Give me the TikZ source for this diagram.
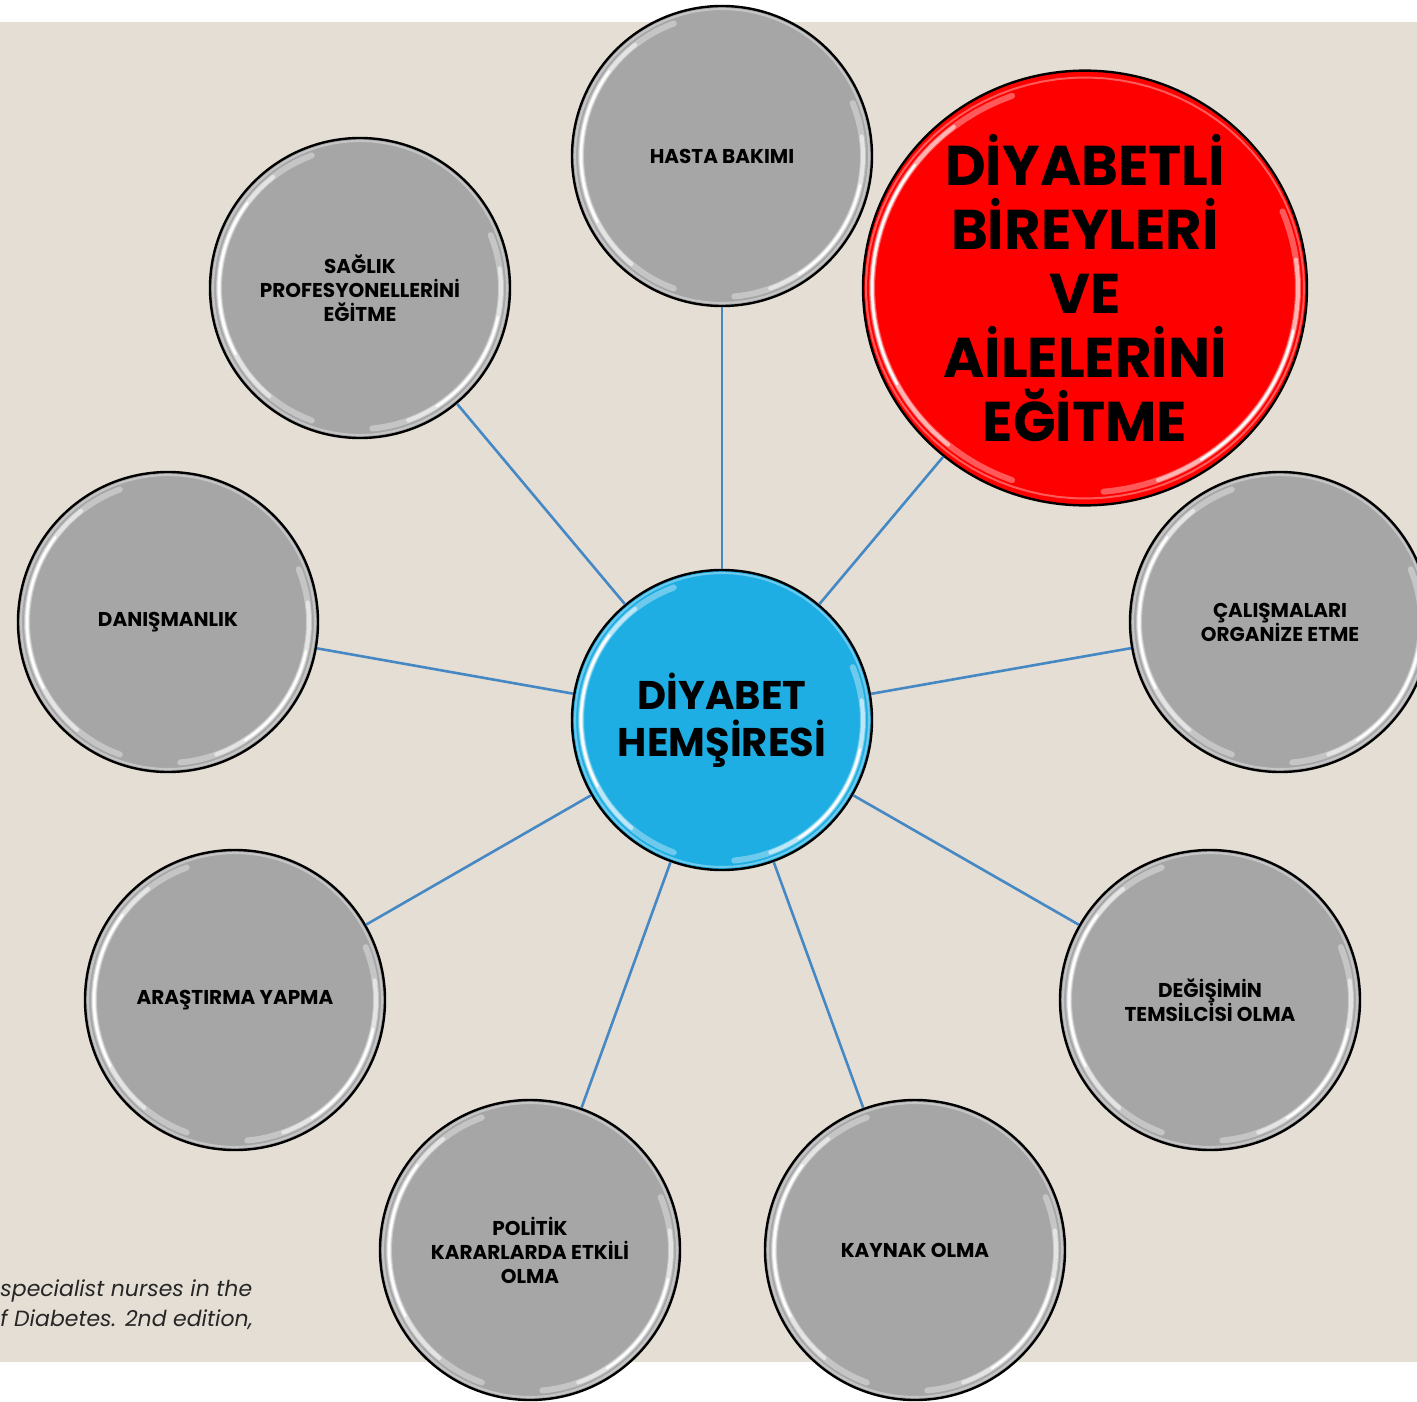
\documentclass[tikz,border=0pt]{standalone}
\usepackage{fontspec}
\setmainfont{Poppins}
\usetikzlibrary{calc,shapes.geometric}
\definecolor{bgtan}{RGB}{228,222,212}
\definecolor{bubgray}{RGB}{166,166,166}
\definecolor{bubblue}{RGB}{31,174,227}
\definecolor{bubred}{RGB}{255,0,0}
\definecolor{linkblue}{RGB}{70,136,196}
\tikzset{
  bubble/.style={circle, draw=black, line width=1.2pt, fill=bubgray, align=center, inner sep=0pt,
     font=\bfseries\fontsize{10}{12}\selectfont},
  smallbub/.style={bubble, minimum size=150pt},
  link/.style={draw=linkblue, line width=1.3pt},
  gleam/.style={white, line cap=round},
  captext/.style={anchor=base west, inner sep=0pt, font=\itshape\fontsize{11}{15}\selectfont, text=black!85},
}
% #1 node, #2 x radius, #3 y radius (inner highlight radii, in pt, unitless)
\newcommand{\shine}[3]{%
  \begin{scope}[shift={(#1.center)}, x=1pt, y=1pt]
  \draw[white, opacity=0.35, line width=1pt] plot[domain=0:360, samples=90] ({(#2+3)*cos(\x)}, {(#3+3)*sin(\x)});
  \draw[gleam, opacity=0.35, line width=3pt] plot[domain=110:250, samples=40] ({#2*cos(\x)}, {#3*sin(\x)});
  \draw[gleam, opacity=0.55, line width=2pt] plot[domain=128:230, samples=40] ({#2*cos(\x)}, {#3*sin(\x)});
  \draw[gleam, opacity=0.95, line width=1.2pt] plot[domain=143:208, samples=30] ({#2*cos(\x)}, {#3*sin(\x)});
  \draw[gleam, opacity=0.35, line width=3pt] plot[domain=-85:22, samples=40] ({#2*cos(\x)}, {#3*sin(\x)});
  \draw[gleam, opacity=0.55, line width=2pt] plot[domain=-70:8, samples=30] ({#2*cos(\x)}, {#3*sin(\x)});
  \draw[gleam, opacity=0.95, line width=1.2pt] plot[domain=-57:-12, samples=20] ({#2*cos(\x)}, {#3*sin(\x)});
  \end{scope}
}
\begin{document}
\begin{tikzpicture}[x=0.5pt,y=-0.5pt]
\useasboundingbox (0,0) rectangle (1417,1401);
\clip (0,0) rectangle (1417,1401);
\fill[white] (0,0) rectangle (1417,1401);
\fill[bgtan] (0,22) rectangle (1417,1362);

% caption fragment
\node[captext] (cap1) at (0,1296) {specialist nurses in the};
\node[captext] (cap2) at (0,1326) {f Diabetes. 2nd edition,};

% nodes
\node[bubble, minimum size=150pt, fill=bubblue, font=\bfseries\fontsize{20}{23.5}\selectfont] (c) at (722,720) {DİYABET\\HEMŞİRESİ};
\node[smallbub] (hasta) at (722,156) {HASTA BAKIMI};
\node[bubble, ellipse, minimum width=222pt, minimum height=213.5pt, fill=bubred, font=\bfseries\fontsize{28}{32}\selectfont] (red) at (1085,288) {DİYABETLİ\\BİREYLERİ\\VE\\AİLELERİNİ\\EĞİTME};
\node[smallbub] (calis) at (1280,622) {ÇALIŞMALARI\\ORGANİZE ETME};
\node[smallbub] (degis) at (1210,1000) {DEĞİŞİMİN\\TEMSİLCİSİ OLMA};
\node[smallbub] (kaynak) at (915,1250) {KAYNAK OLMA};
\node[smallbub] (politik) at (530,1250) {POLİTİK\\KARARLARDA ETKİLİ\\OLMA};
\node[smallbub] (arastir) at (235,1000) {ARAŞTIRMA YAPMA};
\node[smallbub] (danis) at (168,622) {DANIŞMANLIK};
\node[smallbub] (saglik) at (360,288) {SAĞLIK\\PROFESYONELLERİNİ\\EĞİTME};

% gleams
\shine{c}{70.5}{70.5}
\shine{hasta}{70.5}{70.5}
\shine{red}{106.5}{102.25}
\shine{calis}{70.5}{70.5}
\shine{degis}{70.5}{70.5}
\shine{kaynak}{70.5}{70.5}
\shine{politik}{70.5}{70.5}
\shine{arastir}{70.5}{70.5}
\shine{danis}{70.5}{70.5}
\shine{saglik}{70.5}{70.5}

% connectors
\foreach \n in {hasta,red,calis,degis,kaynak,politik,arastir,danis,saglik}
  \draw[link] (c) -- (\n);
\end{tikzpicture}
\end{document}
